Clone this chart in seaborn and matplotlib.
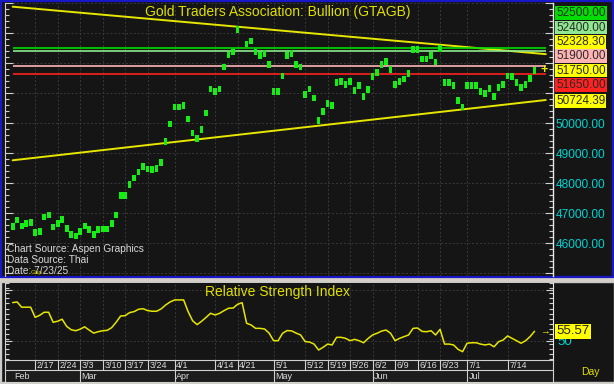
import numpy as np
import pandas as pd
import matplotlib
matplotlib.use("Agg")
import matplotlib.pyplot as plt
from matplotlib import font_manager
from matplotlib.patches import Rectangle
from matplotlib.ticker import MultipleLocator, FixedLocator, FixedFormatter, FuncFormatter
import seaborn as sns

nan = np.nan

# ---------------- data ----------------
start_date = "2025-02-10"
price = [46543, 46767, 46567, 46643, 46677, 46343, 46377, 46867, 46933, 46533,
         46643, 46777, 46477, 46277, 46233, 46377, 46567, 46443, 46277, 46443,
         46467, 46467, 46643, 46933, 47577, 47577, 47943, 48167, 48367, 48543,
         48467, 48443, 48477, 48677, 49377, 49967, 50533, 50533, 50577, 50133,
         49667, 49477, 49777, 50333, 51133, 51043, 51133, 51867, 52267, 52367,
         53123, nan, 52633, 52733, 52367, 52243, 52323, 51943, 51043, 51043,
         51567, 52243, 52323, 51957, 51867, 50943, 51133, 50833, 50077, 50377,
         50643, 50577, 51343, 51377, 51277, 51377, 51077, 51243, 50877, 51110,
         51543, 51690, 51957, 52043, 51777, 51277, 51377, 51467, 51657, 52457,
         52457, 52133, 52133, 52243, 52033, 52477, 51343, 51343, 51243, 50743,
         50533, 51243, 51243, 51243, 51043, 50977, 51143, 50877, 51177, 51277,
         51567, 51543, 51343, 51177, 51277, 51477, 51750]
rsi = [72.5, 72.9, 69.8, 69.8, 69.8, 63.8, 65.0, 66.8, 66.8, 60.9,
       61.5, 62.7, 58.5, 56.5, 55.9, 56.8, 58.2, 56.3, 54.5, 55.3,
       55.9, 56.1, 57.7, 60.9, 64.6, 64.8, 66.6, 67.2, 68.6, 68.9,
       67.8, 67.4, 67.4, 68.8, 71.1, 72.9, 74.1, 74.1, 74.1, 67.2,
       61.8, 59.5, 61.5, 63.8, 66.2, 65.2, 66.2, 67.8, 69.2, 69.3,
       71.5, 72.5, 60.3, 59.3, 57.3, 57.3, 56.9, 54.5, 50.0, 50.0,
       54.4, 56.0, 55.8, 54.5, 53.4, 49.5, 49.2, 48.0, 44.5, 46.1,
       48.0, 47.5, 52.0, 52.0, 51.4, 50.0, 50.8, 50.0, 48.8, 51.3,
       53.4, 54.4, 55.7, 56.3, 54.4, 50.0, 51.4, 52.4, 53.4, 57.3,
       57.5, 55.5, 55.3, 55.9, 53.4, 56.7, 48.0, 48.0, 47.5, 44.9,
       43.5, 48.5, 48.8, 48.8, 48.0, 47.5, 48.0, 46.4, 49.4, 50.4,
       52.8, 51.4, 50.0, 48.5, 50.0, 52.4, 55.57]
upper_trend = [53877.0, 52328.30]   # value at first and at last session
lower_trend = [48757.0, 50724.39]
levels = [52500.00, 52400.00, 51900.00, 51650.00]
level_colors = ["#00dd00", "#8fe88f", "#ffb4b4", "#ff2020"]
last_price = 51750.00
last_rsi = 55.57
week_labels = ["2/17", "2/24", "3/3", "3/10", "3/17", "3/24", "4/1", "4/14", "4/21",
               "5/1", "5/12", "5/19", "5/26", "6/2", "6/9", "6/16", "6/23", "7/1", "7/14"]
month_labels = ["Feb", "Mar", "Apr", "May", "Jun", "Jul"]
month_first = ["2/10", "3/3", "4/1", "5/1", "6/2", "7/1"]
title = "Gold Traders Association: Bullion (GTAGB)"
rsi_title = "Relative Strength Index"
notes = ["Chart Source: Aspen Graphics", "Data Source: Thai", "Date: 7/23/25"]

# ---------------- style ----------------
sns.set_style("dark")
names = {f.name for f in font_manager.fontManager.ttflist}
narrow = "Liberation Sans Narrow" in names
MAIN_FONT = "Liberation Sans Narrow" if narrow else "Liberation Sans"
plt.rcParams["font.family"] = [MAIN_FONT, "Liberation Sans", "DejaVu Sans"]
REG = ["Liberation Sans", "DejaVu Sans"]

DARK = "#151515"
YELLOW = "#e6e600"
GREEN = "#14ee14"
CYAN = "#00d2d2"
GRID = "#393939"
LIGHT = "#d0d0d0"

W, H = 614, 384
fig = plt.figure(figsize=(W / 100, H / 100), dpi=100)
fig.patch.set_facecolor("#d4d0c8")


def fr(x0, y0, x1, y1):
    return [x0 / W, 1 - y1 / H, (x1 - x0) / W, (y1 - y0) / H]


bg = fig.add_axes([0, 0, 1, 1])
bg.set_xlim(0, W)
bg.set_ylim(H, 0)
bg.axis("off")
bg.add_patch(Rectangle((0, 0), W, 277, fc=DARK, ec="none"))
bg.add_patch(Rectangle((0.8, 0.8), W - 1.6, 276, fc="none", ec="#1818c8", lw=1.6))
bg.add_patch(Rectangle((0.5, 282), W - 1, 100, fc=DARK, ec="#c8c8c8", lw=1))

dates = pd.bdate_range(start_date, periods=len(price))
idx = np.arange(len(price))
week_pos = [dates.get_loc(pd.Timestamp(f"2025/{w}")) for w in week_labels]
month_pos = [dates.get_loc(pd.Timestamp(f"2025/{m}")) for m in month_first]
x_end = idx[-1] + 2.5
xlim = (-1.7, 120.1)

# ---------------- main panel ----------------
ax = fig.add_axes(fr(5, 3, 553, 276))
ax.set_facecolor(DARK)
ax.set_xlim(*xlim)
ax.set_ylim(44900, 54000)

# right-hand value tags (stacked so they do not overlap)
tags = [(levels[0], level_colors[0]), (levels[1], level_colors[1]),
        (upper_trend[1], "#ffff00"), (levels[2], level_colors[2]),
        (last_price, "#ffff00"), (levels[3], level_colors[3]),
        (lower_trend[1], "#ffff00")]
gap = 14.3
tr = ax.transData
disp = {v: tr.transform((0, v))[1] for v, _ in tags}
pos = {last_price: disp[last_price]}
above = sorted([v for v, _ in tags if v > last_price])
below = sorted([v for v, _ in tags if v < last_price], reverse=True)
prev = disp[last_price]
for v in above:
    prev = max(disp[v], prev + gap)
    pos[v] = prev
prev = disp[last_price]
for v in below:
    prev = min(disp[v], prev - gap)
    pos[v] = prev
tag_disp = list(pos.values())


def ylab(v, p):
    if not (45500 < v < 53500):
        return ""
    dy = tr.transform((0, v))[1]
    if any(abs(dy - t) < 11 for t in tag_disp):
        return ""
    return f"{v:.2f}"


ax.yaxis.tick_right()
ax.yaxis.set_major_locator(MultipleLocator(1000))
ax.yaxis.set_minor_locator(MultipleLocator(200))
ax.yaxis.set_major_formatter(FuncFormatter(ylab))
ax.tick_params(axis="y", which="both", direction="in", left=True, right=True,
               labelleft=False, labelright=True, color=LIGHT, labelcolor=CYAN,
               labelsize=8.6, pad=2, width=0.8)
ax.tick_params(axis="y", which="major", length=6)
ax.tick_params(axis="y", which="minor", length=3)
for lab in ax.get_yticklabels():
    lab.set_fontfamily(REG)
ax.set_xticks(week_pos)
ax.tick_params(axis="x", length=0, labelbottom=False)
ax.grid(axis="y", which="major", color=GRID, lw=0.7, ls=(0, (2, 2)))
ax.grid(axis="x", which="major", color=GRID, lw=0.7, ls=(0, (2, 2)))
for s in ["top", "bottom"]:
    ax.spines[s].set_visible(False)
ax.spines["left"].set_color(LIGHT)
ax.spines["right"].set_color("#e8e8e8")
ax.spines["left"].set_linewidth(0.8)
ax.spines["right"].set_linewidth(1.0)

# trend lines
trend_x = np.array([idx[0], x_end])


def trend(vals):
    return vals[0] + (vals[1] - vals[0]) * (trend_x - idx[0]) / (idx[-1] - idx[0])


for vals in (upper_trend, lower_trend):
    sns.lineplot(x=trend_x, y=trend(vals), ax=ax, color=YELLOW, lw=1.4, zorder=3)

# horizontal levels
ax.hlines(levels, idx[0], x_end, colors=level_colors, lw=1.2, zorder=3)

# price points
df = pd.DataFrame({"x": idx, "price": price}).dropna()
rect_marker = [(-0.55, -1), (0.55, -1), (0.55, 1), (-0.55, 1), (-0.55, -1)]
sns.scatterplot(data=df, x="x", y="price", ax=ax, marker=rect_marker, s=24,
                color=GREEN, edgecolor="none", linewidth=0, zorder=4, legend=False)
ax.set_xlabel("")
ax.set_ylabel("")

ax.text(0.983, last_price, "+", transform=ax.get_yaxis_transform(), color=YELLOW,
        ha="center", va="center", fontsize=9, fontweight="bold", family=REG, zorder=6)

inv = tr.inverted()
for v, c in tags:
    yv = inv.transform((0, pos[v]))[1]
    ax.text(1.006, yv, f"{v:.2f}", transform=ax.get_yaxis_transform(), ha="left",
            va="center", fontsize=8.5, color="#2a2a2a", family=REG, clip_on=False,
            zorder=7, bbox=dict(boxstyle="square,pad=0.07", fc=c, ec="none"))

tsize = 11.5 if narrow else 10
ax.text(0.498, 0.967, title, transform=ax.transAxes, ha="center", va="center",
        color="#e0e000", fontsize=tsize, zorder=6)
for k, (t, yy) in enumerate(zip(notes, [0.099, 0.058, 0.017])):
    ax.text(0.004, yy, t, transform=ax.transAxes, ha="left", va="center",
            color="#d8d8d8", fontsize=8.3 if narrow else 7.3, zorder=6)
ax.text(0.046, 0.012, "Gap", transform=ax.transAxes, ha="left", va="center",
        color="#c8c800", fontsize=4.5, family=REG, zorder=7)

# ---------------- RSI panel ----------------
ax2 = fig.add_axes(fr(5, 283, 553, 360))
ax2.set_facecolor(DARK)
ax2.set_xlim(*xlim)
ax2.set_ylim(38.6, 84.1)
sns.lineplot(x=idx, y=rsi, ax=ax2, color=YELLOW, lw=1.1, zorder=4)
ax2.set_xlabel("")
ax2.set_ylabel("")
ax2.yaxis.tick_right()
ax2.yaxis.set_major_locator(FixedLocator([50, 80]))
ax2.yaxis.set_major_formatter(FixedFormatter(["50", ""]))
ax2.yaxis.set_minor_locator(MultipleLocator(3))
ax2.tick_params(axis="y", which="both", direction="in", left=True, right=True,
                labelleft=False, labelright=True, color=LIGHT, labelcolor=CYAN,
                labelsize=9.5, pad=3, width=0.8)
ax2.tick_params(axis="y", which="major", length=5)
ax2.tick_params(axis="y", which="minor", length=3)
for lab in ax2.get_yticklabels():
    lab.set_fontfamily(REG)
ax2.set_xticks(week_pos)
ax2.tick_params(axis="x", length=0, labelbottom=False)
ax2.grid(axis="both", which="major", color=GRID, lw=0.7, ls=(0, (2, 2)))
for s in ["top", "bottom"]:
    ax2.spines[s].set_visible(False)
ax2.spines["left"].set_color(LIGHT)
ax2.spines["right"].set_color("#e8e8e8")
ax2.text(0.498, 0.88, rsi_title, transform=ax2.transAxes, ha="center", va="center",
         color="#e0e000", fontsize=tsize, zorder=6)
ax2.text(0.985, last_rsi, "\u2192", transform=ax2.get_yaxis_transform(), color=YELLOW,
         ha="center", va="center", fontsize=7, family=REG, zorder=6)
ax2.text(1.006, last_rsi, f"{last_rsi:.2f}", transform=ax2.get_yaxis_transform(),
         ha="left", va="center", fontsize=9.5, color="#202020", family=REG, clip_on=False,
         zorder=7, bbox=dict(boxstyle="square,pad=0.1", fc="#ffff00", ec="none"))

# ---------------- date label rows ----------------
ax3 = fig.add_axes(fr(5, 360, 553, 382))
ax3.set_facecolor("#1c1c1c")
ax3.set_xlim(*xlim)
ax3.set_ylim(0, 1)
ax3.set_xticks([])
ax3.set_yticks([])
for s in ax3.spines.values():
    s.set_color(LIGHT)
    s.set_linewidth(0.8)
ax3.axhline(0.545, color=LIGHT, lw=0.8)
ax3.vlines(week_pos, 0.545, 1, color=LIGHT, lw=0.8)
ax3.vlines(month_pos[1:], 0, 0.545, color=LIGHT, lw=0.8)
for p, t in zip(week_pos, week_labels):
    ax3.text(p + 0.35, 0.76, t, ha="left", va="center", color="#dcdcdc",
             fontsize=6.5, family=REG)
for p, t in zip(month_pos, month_labels):
    ax3.text(p + 0.35, 0.27, t, ha="left", va="center", color="#dcdcdc",
             fontsize=6.5, family=REG)

fig.text(590 / W, 1 - 372 / H, "Day", color="#e0e000", fontsize=7.5, family=REG,
         ha="center", va="center")

fig.savefig("out.png", dpi=100, facecolor=fig.get_facecolor())
